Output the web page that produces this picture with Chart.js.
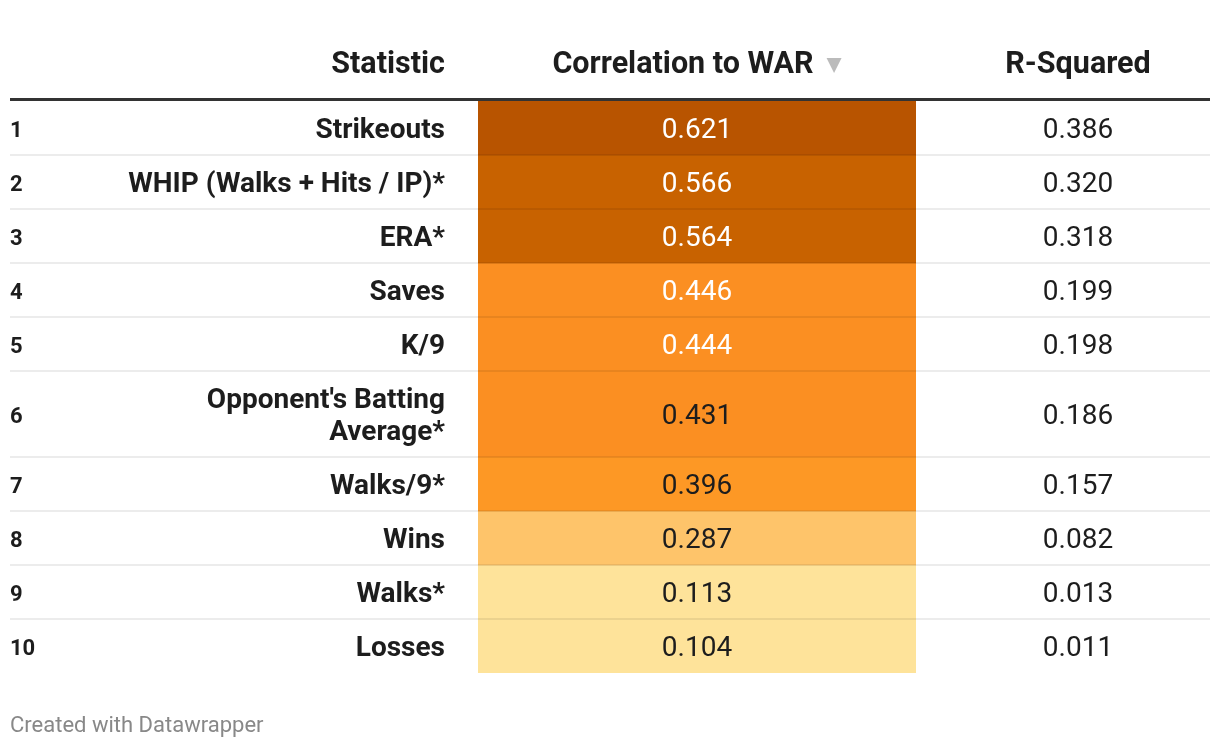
<!DOCTYPE html>
<html>
<head>
<meta charset="utf-8">
<script src="https://cdn.jsdelivr.net/npm/chart.js@4"></script>
<style>
  html, body { margin: 0; padding: 0; background: #fff; }
  canvas { display: block; }
</style>
</head>
<body>
<canvas id="table-chart" width="1220" height="748"></canvas>
<script>
// table data
const headers = ['Statistic', 'Correlation to WAR', 'R-Squared'];
const ranks = ['1', '2', '3', '4', '5', '6', '7', '8', '9', '10'];
const statistics = [
  'Strikeouts',
  'WHIP (Walks + Hits / IP)*',
  'ERA*',
  'Saves',
  'K/9',
  "Opponent's Batting Average*",
  'Walks/9*',
  'Wins',
  'Walks*',
  'Losses',
];
const correlation = [0.621, 0.566, 0.564, 0.446, 0.444, 0.431, 0.396, 0.287, 0.113, 0.104];
const rSquared = [0.386, 0.32, 0.318, 0.199, 0.198, 0.186, 0.157, 0.082, 0.013, 0.011];
const footerText = 'Created with Datawrapper';

// layout
const FONT = 'Roboto, "Noto Sans", sans-serif';
const textDark = '#1d1d1d';
const labelRight = 445;
const labelMaxWidth = 340;
const corrCenter = 697;
const rsqCenter = 1078;
const rowHeight = 54;
const lineHeight = 32;

function cellColor(value) {
  if (value >= 0.6) return '#b85400';
  if (value >= 0.5) return '#c86200';
  if (value >= 0.4) return '#fb8f22';
  if (value >= 0.35) return '#fd9825';
  if (value >= 0.2) return '#fec46a';
  return '#fee39a';
}
function cellTextColor(value) {
  return value >= 0.44 ? '#ffffff' : textDark;
}

// wrap the statistic labels like the column does
const measureCtx = document.createElement('canvas').getContext('2d');
measureCtx.font = 'bold 28px ' + FONT;
function wrapLabel(text) {
  const words = text.split(' ');
  const lines = [];
  let current = '';
  for (const word of words) {
    const test = current ? current + ' ' + word : word;
    if (current && measureCtx.measureText(test).width > labelMaxWidth) {
      lines.push(current);
      current = word;
    } else {
      current = test;
    }
  }
  lines.push(current);
  return lines;
}
const labelLines = statistics.map(wrapLabel);

// row boundaries in "row units"
const rowBounds = [];
let cursor = 0;
labelLines.forEach((lines) => {
  const size = 1 + ((lines.length - 1) * lineHeight) / rowHeight;
  rowBounds.push([cursor, cursor + size]);
  cursor += size;
});
const totalUnits = cursor;

const tablePlugin = {
  id: 'tableText',
  afterDatasetsDraw(chart) {
    const { ctx } = chart;
    const y = chart.scales.y;
    ctx.save();

    // row separators
    ctx.fillStyle = 'rgba(0,0,0,0.075)';
    rowBounds.slice(0, -1).forEach(([, end]) => {
      const py = y.getPixelForValue(end);
      ctx.fillRect(10, py - 1, 1200, 2);
    });

    // header rule
    ctx.fillStyle = '#333333';
    ctx.fillRect(10, 98, 1200, 3);

    // header
    ctx.fillStyle = textDark;
    ctx.textBaseline = 'middle';
    ctx.font = 'bold 30.5px ' + FONT;
    ctx.textAlign = 'right';
    ctx.fillText(headers[0], labelRight, 65);
    const w = ctx.measureText(headers[1]).width;
    const total = w + 13 + 15;
    const startX = corrCenter - total / 2;
    ctx.textAlign = 'left';
    ctx.fillText(headers[1], startX, 65);
    ctx.fillStyle = '#bbbbbb';
    ctx.beginPath();
    const tx = startX + w + 13;
    ctx.moveTo(tx, 58);
    ctx.lineTo(tx + 15, 58);
    ctx.lineTo(tx + 7.5, 73);
    ctx.closePath();
    ctx.fill();
    ctx.fillStyle = textDark;
    ctx.textAlign = 'center';
    ctx.fillText(headers[2], rsqCenter, 65);

    // rows
    rowBounds.forEach(([start, end], i) => {
      const cy = (y.getPixelForValue(start) + y.getPixelForValue(end)) / 2 + 3;
      ctx.fillStyle = textDark;
      ctx.font = 'bold 22px ' + FONT;
      ctx.textAlign = 'left';
      ctx.fillText(ranks[i], 10, cy);

      ctx.font = 'bold 28px ' + FONT;
      ctx.textAlign = 'right';
      const lines = labelLines[i];
      lines.forEach((line, k) => {
        const ly = cy + (k - (lines.length - 1) / 2) * lineHeight;
        ctx.fillText(line, labelRight, ly);
      });

      ctx.font = '28px ' + FONT;
      ctx.textAlign = 'center';
      ctx.fillStyle = cellTextColor(correlation[i]);
      ctx.fillText(correlation[i].toFixed(3), corrCenter, cy);
      ctx.fillStyle = textDark;
      ctx.fillText(rSquared[i].toFixed(3), rsqCenter, cy);
    });

    // footer
    ctx.font = '22px ' + FONT;
    ctx.fillStyle = '#888888';
    ctx.textAlign = 'left';
    ctx.fillText(footerText, 10, 726);
    ctx.restore();
  },
};

const canvas = document.getElementById('table-chart');
new Chart(canvas, {
  type: 'bar',
  data: {
    labels: [headers[1]],
    datasets: rowBounds.map((bounds, i) => ({
      label: statistics[i],
      data: [bounds],
      backgroundColor: cellColor(correlation[i]),
      borderWidth: 0,
      grouped: false,
      barPercentage: 1,
      categoryPercentage: 1,
    })),
  },
  options: {
    responsive: false,
    animation: false,
    devicePixelRatio: 1,
    events: [],
    layout: { padding: { left: 478, right: 304, top: 101, bottom: 75 } },
    plugins: { legend: { display: false }, tooltip: { enabled: false } },
    scales: {
      x: { display: false },
      y: { display: false, reverse: true, min: 0, max: totalUnits },
    },
  },
  plugins: [tablePlugin],
});
</script>
</body>
</html>
